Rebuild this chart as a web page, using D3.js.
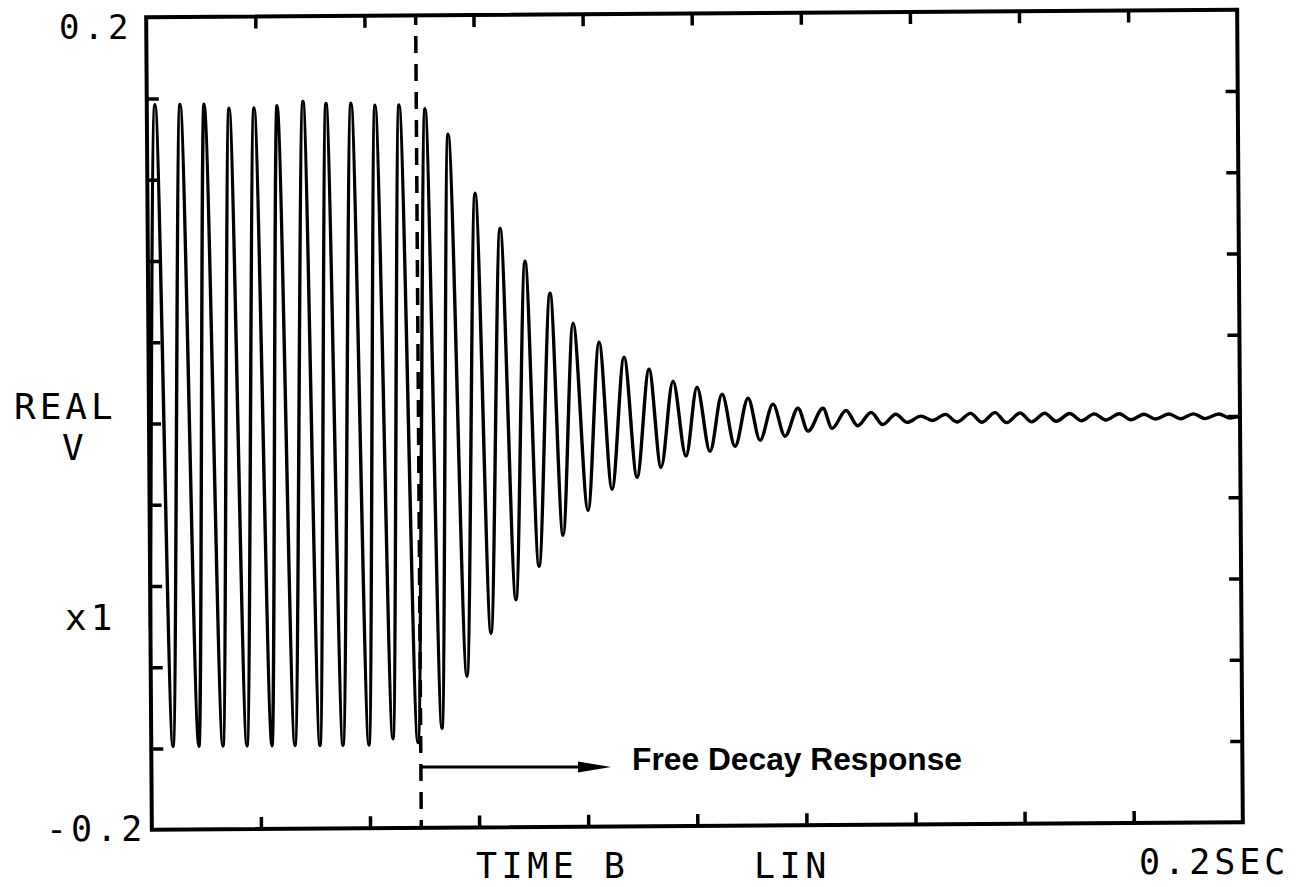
<!DOCTYPE html>
<html><head><meta charset="utf-8">
<script src="https://cdn.jsdelivr.net/npm/d3@7"></script>
<style>html,body{margin:0;padding:0;background:#fff;}svg{display:block}</style>
</head><body>
<svg id="chart" width="1299" height="887"></svg>
<script>
// Extrema of the trace: time in ms, value in volts
const forcedTimes  = [0, 1.50, 3.98, 6.09, 8.74, 10.49, 13.14, 15.07, 17.54, 19.65, 22.13, 23.87, 26.34, 28.63, 30.93, 32.85, 35.14, 37.43, 39.91, 41.83, 44.31, 46.23, 48.89];
const forcedValues = [-0.10, 0.157, -0.159, 0.157, -0.159, 0.157, -0.159, 0.155, -0.159, 0.155, -0.159, 0.156, -0.159, 0.158, -0.159, 0.157, -0.159, 0.157, -0.159, 0.156, -0.156, 0.156, -0.158];
const decayTimes  = [51.0, 53.31, 55.18, 57.97, 60.06, 62.42, 64.60, 67.04, 69.13, 71.31, 73.68, 75.75, 77.86, 80.37, 82.60, 84.79, 87.17, 89.39, 91.73, 93.80, 96.11, 98.39, 100.50, 102.80, 105.08, 107.39, 109.85, 111.99, 114.41, 116.57, 118.99, 120.79, 123.57, 125.19];
const decayValues = [0.154, -0.151, 0.1414, -0.1255, 0.1123, -0.1044, 0.095, -0.088, 0.0786, -0.0716, 0.0628, -0.0564, 0.048, -0.0442, 0.0385, -0.0339, 0.031, -0.0281, 0.025, -0.0233, 0.019, -0.0179, 0.016, -0.0156, 0.0125, -0.0132, 0.0104, -0.0103, 0.0074, -0.0084, 0.0053, -0.006, 0.0052, -0.0047];
const tailTimes  = [127.8, 129.9, 132.4, 134.5, 136.9, 139.0, 141.5, 143.6, 146.0, 148.1, 150.6, 152.7, 155.1, 157.2, 159.7, 161.8, 164.2, 166.3, 168.8, 170.9, 173.3, 175.4, 177.9, 180.0, 182.4, 184.5, 187.0, 189.1, 191.5, 193.6, 196.1, 198.2, 200];
const tailValues = [0.004, -0.0035, 0.003, -0.003, 0.002, -0.002, 0.001, -0.0012, 0.0018, -0.002, 0.0022, -0.0022, 0.0025, -0.0025, 0.0022, -0.0022, 0.002, -0.002, 0.0018, -0.0018, 0.0015, -0.0015, 0.0015, -0.0015, 0.0012, -0.0012, 0.0012, -0.0012, 0.0012, -0.0012, 0.001, -0.001, 0];

const xTickValues = [20, 40, 60, 80, 100, 120, 140, 160, 180];           // ms
const yTickValues = [-0.16, -0.12, -0.08, -0.04, 0, 0.04, 0.08, 0.12, 0.16];
const markerTime = 49.4;                                                 // ms, end of forcing
const yEndLabels = ["0.2", "-0.2"];
const sideLabels = ["REAL", "V", "x1"];
const bottomLabels = ["TIME B", "LIN", "0.2SEC"];
const annotation = "Free Decay Response";

const svg = d3.select("#chart");
const L = 149, R = 1240, T = 13.5, B = 826;
const x = d3.scaleLinear().domain([0, 200]).range([L, R]);
const y = d3.scaleLinear().domain([-0.2, 0.2]).range([B, T]);

const g = svg.append("g").attr("transform", "rotate(-0.4,695,420)");

const pts = [];
[[forcedTimes, forcedValues], [decayTimes, decayValues], [tailTimes, tailValues]].forEach(([ts, vs]) => {
  ts.forEach((t, i) => pts.push([t, vs[i]]));
});

const line = d3.line().x(d => x(d[0])).y(d => y(d[1])).curve(d3.curveMonotoneX);
g.append("path").datum(pts).attr("d", line)
  .attr("fill", "none").attr("stroke", "#000").attr("stroke-width", 3.4)
  .attr("stroke-linejoin", "round");

// frame
g.append("rect").attr("x", L).attr("y", T).attr("width", R - L).attr("height", B - T)
  .attr("fill", "none").attr("stroke", "#000").attr("stroke-width", 4);

// ticks via axes
const tl = 12;
const axTop = g.append("g").attr("transform", `translate(0,${T})`)
  .call(d3.axisBottom(x).tickValues(xTickValues).tickSize(tl).tickFormat(""));
const axBot = g.append("g").attr("transform", `translate(0,${B})`)
  .call(d3.axisTop(x).tickValues(xTickValues).tickSize(tl).tickFormat(""));
const axLeft = g.append("g").attr("transform", `translate(${L},0)`)
  .call(d3.axisRight(y).tickValues(yTickValues).tickSize(tl).tickFormat(""));
const axRight = g.append("g").attr("transform", `translate(${R},0)`)
  .call(d3.axisLeft(y).tickValues(yTickValues).tickSize(tl).tickFormat(""));
[axTop, axBot, axLeft, axRight].forEach(a => {
  a.select(".domain").remove();
  a.selectAll(".tick line").attr("stroke", "#000").attr("stroke-width", 3.5);
});

// dashed marker line
g.append("line").attr("x1", x(markerTime)).attr("x2", x(markerTime))
  .attr("y1", T).attr("y2", B)
  .attr("stroke", "#000").attr("stroke-width", 3.5)
  .attr("stroke-dasharray", "17 11").attr("stroke-dashoffset", 7.5);

// arrow
const ay = 767;
svg.append("line").attr("x1", 421).attr("x2", 582).attr("y1", ay).attr("y2", ay)
  .attr("stroke", "#000").attr("stroke-width", 3);
svg.append("polygon").attr("points", `578,${ay-5.5} 611,${ay} 578,${ay+5.5}`).attr("fill", "#000");
svg.append("text").attr("x", 632).attr("y", 770)
  .attr("font-family", "Liberation Sans, Arial, sans-serif").attr("font-weight", "bold")
  .attr("font-size", 31).attr("textLength", 330).attr("lengthAdjust", "spacingAndGlyphs")
  .text(annotation);

// plotter labels
const mono = "DejaVu Sans Mono, monospace";
function ptxt(s, px, py, fs, ls) {
  svg.append("text").attr("x", px).attr("y", py)
    .attr("font-family", mono).attr("font-size", fs).attr("letter-spacing", ls)
    .attr("fill", "#000").text(s);
}
ptxt(yEndLabels[0], 59, 39, 34, 4);
ptxt(yEndLabels[1], 46, 841, 35, 4);
ptxt(sideLabels[0], 14, 419, 36, 4);
ptxt(sideLabels[1], 62, 460, 36, 4);
ptxt(sideLabels[2], 65, 630, 36, 4);
ptxt(bottomLabels[0], 476, 878, 35, 4.5);
ptxt(bottomLabels[1], 754, 878, 35, 4.5);
ptxt(bottomLabels[2], 1139, 874, 35, 4);
</script>
</body></html>
